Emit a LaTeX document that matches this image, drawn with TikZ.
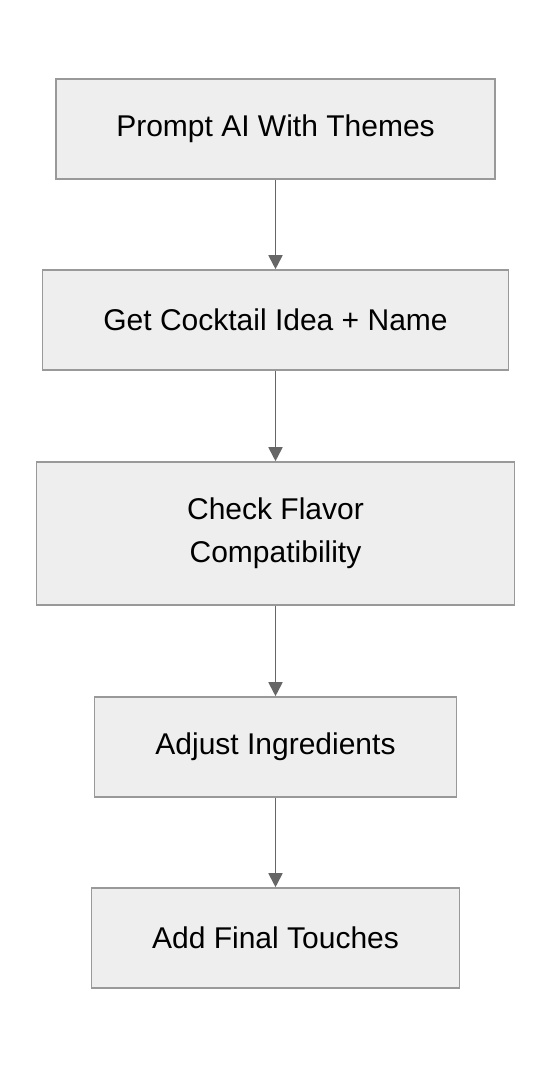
\documentclass[tikz,border=0pt]{standalone}
\usepackage{fontspec}
\setmainfont{Liberation Sans}
\usetikzlibrary{positioning}
\usetikzlibrary{arrows.meta}
\definecolor{boxfill}{HTML}{EEEEEE}
\definecolor{boxline}{HTML}{999999}
\definecolor{arrowgray}{HTML}{666666}

\begin{document}
\begin{tikzpicture}[x=1pt,y=1pt,
  stepbox/.style={draw=boxline, fill=boxfill, line width=1.6pt, minimum height=100pt,
    align=center, font=\fontsize{30}{43}\selectfont, inner sep=0pt},
  flow/.style={-{Triangle[length=14pt,width=14pt]}, arrowgray, line width=1.8pt}]
\useasboundingbox (0,0) rectangle (552,-1068);
\node[stepbox, minimum width=439pt] (prompt) at (275.5,-129) {Prompt AI With Themes};
\node[stepbox, minimum width=466pt, below=89.4pt of prompt] (idea) {Get Cocktail Idea + Name};
\node[stepbox, minimum width=478pt, minimum height=143pt, below=90.4pt of idea] (check) {Check Flavor\\ Compatibility};
\node[stepbox, minimum width=362pt, below=90.4pt of check] (adjust) {Adjust Ingredients};
\node[stepbox, minimum width=368pt, below=89.4pt of adjust] (final) {Add Final Touches};
\draw[flow] (prompt) -- (idea);
\draw[flow] (idea) -- (check);
\draw[flow] (check) -- (adjust);
\draw[flow] (adjust) -- (final);
\end{tikzpicture}
\end{document}
